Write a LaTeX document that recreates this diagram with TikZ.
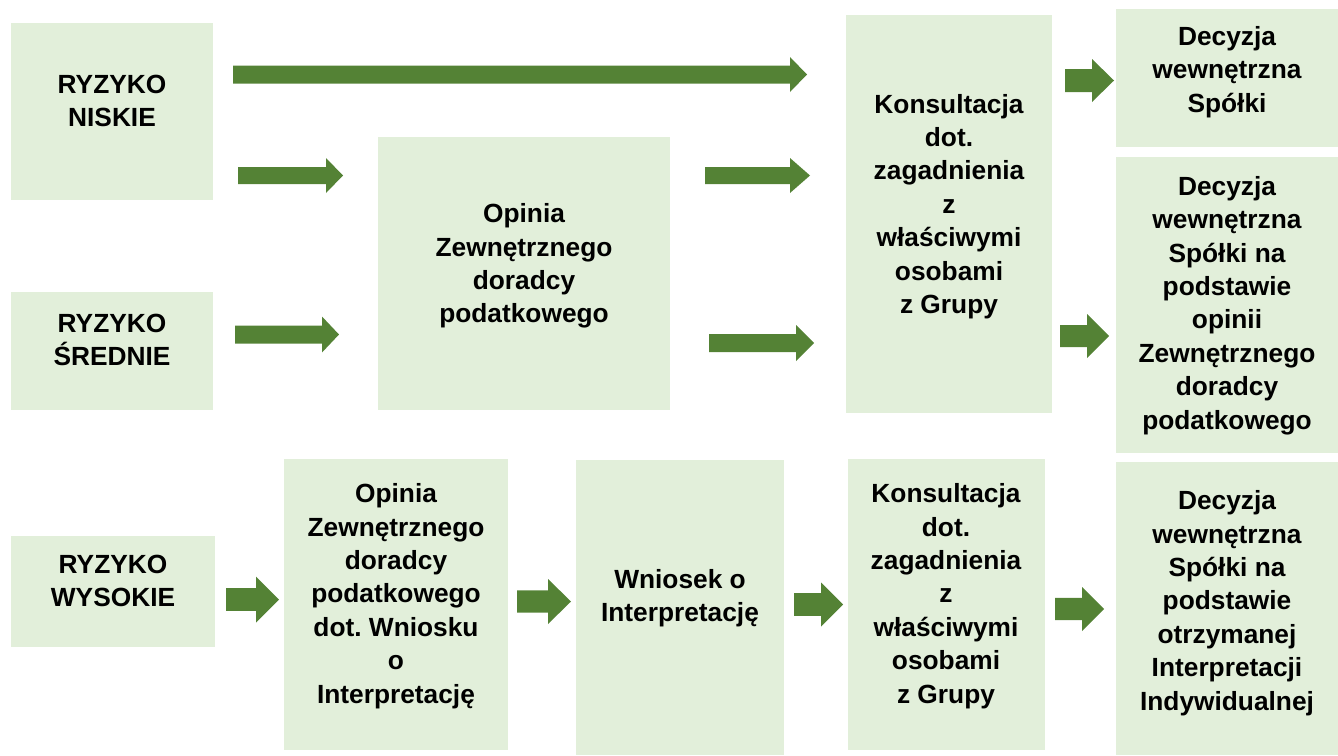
\documentclass[tikz,border=0pt]{standalone}
\usepackage{fontspec}
\setmainfont{Liberation Sans}
\frenchspacing
\definecolor{boxc}{HTML}{E2EFDA}
\definecolor{arrc}{HTML}{548235}
\newcommand\mybox[5]{%
  \node[boxs, minimum width={(#4-#2)*1pt}, minimum height={(#5-#3)*1pt}] (#1) at ({(#2+#4)/2},{(#3+#5)/2}) {};}
% x1, x2, y, shaft half, head half, head length
\newcommand\barrow[6]{%
  \fill[arrc] (#1,{#3-#4}) -- ({#2-#6},{#3-#4}) -- ({#2-#6},{#3-#5}) -- (#2,#3)
    -- ({#2-#6},{#3+#5}) -- ({#2-#6},{#3+#4}) -- (#1,{#3+#4}) -- cycle;}
\begin{document}
\begin{tikzpicture}[x=1pt,y=-1pt,
  boxs/.style={fill=boxc, draw=none, inner sep=0pt, outer sep=0pt},
  txt/.style={align=center, inner sep=0pt, font=\bfseries\fontsize{26.3}{33.4}\selectfont}]
\useasboundingbox (0,0) rectangle (1338,755);
% boxes
\mybox{niskie}{11}{23}{213}{200}
\mybox{srednie}{11}{292}{213}{410}
\mybox{wysokie}{11}{536}{215}{647}
\mybox{opinia}{378}{137}{670}{410}
\mybox{kons}{846}{15}{1052}{413}
\mybox{dec1}{1116}{9}{1338}{147}
\mybox{dec2}{1116}{157}{1338}{453}
\mybox{dec3}{1116}{462}{1338}{755}
\mybox{opinia2}{284}{459}{508}{750}
\mybox{wniosek}{576}{460}{784}{755}
\mybox{kons2}{848}{459}{1045}{750}
% texts
\node[txt] (t-niskie) at (112,101) {RYZYKO\\NISKIE};
\node[txt] (t-srednie) at (112,340) {RYZYKO\\ŚREDNIE};
\node[txt] (t-wysokie) at (113,581) {RYZYKO\\WYSOKIE};
\node[txt] (t-opinia) at (524,266) {Opinia\\Zewnętrznego\\doradcy\\podatkowego};
\node[txt] (t-kons) at (949,206.5) {Konsultacja\\dot.\\zagadnienia\\z\\właściwymi\\osobami\\z Grupy};
\node[txt] (t-dec1) at (1227,72) {Decyzja\\wewnętrzna\\Spółki};
\node[txt] (t-dec2) at (1227,305.5) {Decyzja\\wewnętrzna\\Spółki na\\podstawie\\opinii\\Zewnętrznego\\doradcy\\podatkowego};
\node[txt] (t-opinia2) at (396,596) {Opinia\\Zewnętrznego\\doradcy\\podatkowego\\dot. Wniosku\\o\\Interpretację};
\node[txt] (t-wniosek) at (680,598) {Wniosek o\\Interpretację};
\node[txt] (t-kons2) at (946,596) {Konsultacja\\dot.\\zagadnienia\\z\\właściwymi\\osobami\\z Grupy};
\node[txt] (t-dec3) at (1227,603) {Decyzja\\wewnętrzna\\Spółki na\\podstawie\\otrzymanej\\Interpretacji\\Indywidualnej};
% arrows
\barrow{233}{807}{74.5}{9}{17.5}{17}
\barrow{238}{343}{175.5}{8.5}{17.5}{17}
\barrow{705}{810}{175.5}{8.5}{17.5}{20}
\barrow{235}{339}{334.5}{9}{18}{17}
\barrow{709}{814}{343}{9}{18}{18}
\barrow{1065}{1114}{80.5}{11.5}{21.5}{22}
\barrow{1060}{1109}{336}{11}{22}{22}
\barrow{226}{279}{599.5}{11.3}{23}{23}
\barrow{517}{571}{601.5}{11.2}{22.5}{23}
\barrow{794}{843}{604.5}{11.3}{22}{22}
\barrow{1055}{1104}{609}{11.2}{22}{22}
\end{tikzpicture}
\end{document}
